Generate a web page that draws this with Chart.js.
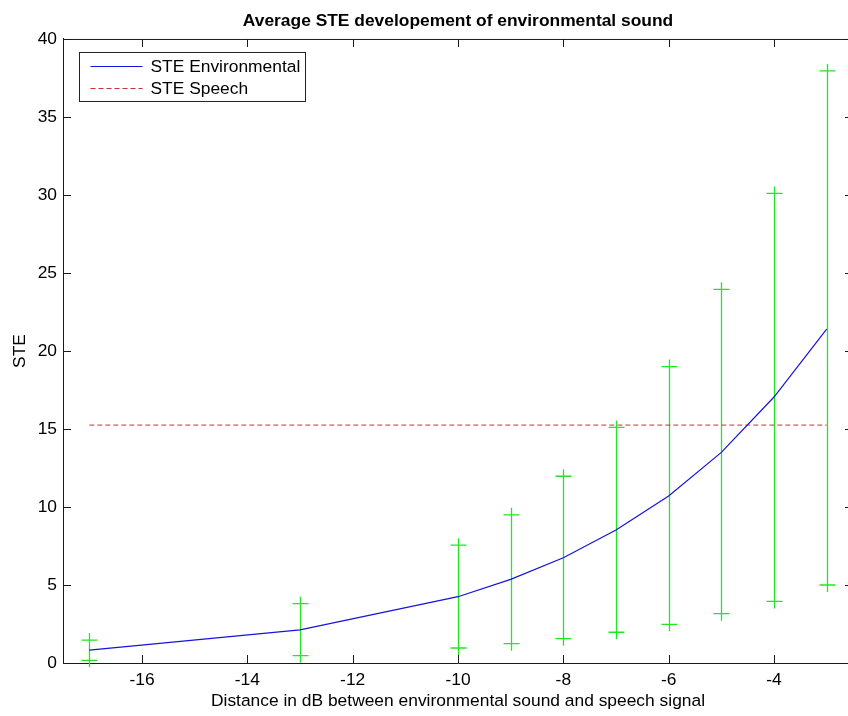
<!DOCTYPE html>
<html>
<head>
<meta charset="utf-8">
<script src="https://cdn.jsdelivr.net/npm/chart.js@4"></script>
<style>
  html, body { margin: 0; background: #fff; overflow: hidden; }
  #wrap { width: 848px; height: 716px; overflow: hidden; position: relative; }
  #steChart { position: absolute; left: 0; top: 0; }
</style>
</head>
<body>
<div id="wrap"><canvas id="steChart" width="870" height="716"></canvas></div>
<script>
// distance in dB and the averaged STE with its spread
const distances = [-17, -13, -10, -9, -8, -7, -6, -5, -4, -3];
const steEnvironmental = [0.83, 2.12, 4.25, 5.36, 6.75, 8.53, 10.7, 13.5, 17.05, 21.4];
const steUpper = [1.47, 3.8, 7.55, 9.5, 11.97, 15.1, 19.0, 23.95, 30.1, 37.95];
const steLower = [0.17, 0.47, 0.96, 1.24, 1.56, 1.97, 2.48, 3.16, 3.95, 5.0];
const steSpeech = 15.25;
const xTicks = [-16, -14, -12, -10, -8, -6, -4];
const yTicks = [0, 5, 10, 15, 20, 25, 30, 35, 40];

const FONT = '"Liberation Sans", Arial, sans-serif';
const FS = 17.4;
const AXIS = '#1a1a1a';

const envPoints = distances.map((d, i) => ({ x: d, y: steEnvironmental[i] }));
const speechPoints = [
    { x: distances[0], y: steSpeech },
    { x: distances[distances.length - 1], y: steSpeech }
];

// green error bars with '+' ends
const errorBars = {
    id: 'errorBars',
    beforeDatasetsDraw(chart) {
        const { ctx, scales: { x, y } } = chart;
        ctx.save();
        ctx.strokeStyle = '#22e622';
        ctx.lineWidth = 1.3;
        const h = 7;
        distances.forEach((d, i) => {
            const px = Math.round(x.getPixelForValue(d)) + 0.5;
            const top = y.getPixelForValue(steUpper[i]);
            const bot = y.getPixelForValue(steLower[i]);
            ctx.beginPath();
            ctx.moveTo(px, top - h);
            ctx.lineTo(px, bot + h);
            ctx.moveTo(px - h - 1, top);
            ctx.lineTo(px + h + 1, top);
            ctx.moveTo(px - h - 1, bot);
            ctx.lineTo(px + h + 1, bot);
            ctx.stroke();
        });
        ctx.restore();
    }
};

// box edges, inward ticks and the legend
const frame = {
    id: 'frame',
    afterDraw(chart) {
        const { ctx, chartArea: a, scales: { x, y } } = chart;
        ctx.save();
        ctx.strokeStyle = AXIS;
        ctx.lineWidth = 1;
        ctx.beginPath();
        ctx.moveTo(a.left + 0.5, a.top + 0.5);
        ctx.lineTo(a.right - 0.5, a.top + 0.5);
        ctx.lineTo(a.right - 0.5, a.bottom);
        const t = 8;
        xTicks.forEach(v => {
            const px = Math.round(x.getPixelForValue(v)) + 0.5;
            ctx.moveTo(px, a.bottom);
            ctx.lineTo(px, a.bottom - t);
            ctx.moveTo(px, a.top);
            ctx.lineTo(px, a.top + t);
        });
        yTicks.forEach(v => {
            const py = Math.round(y.getPixelForValue(v)) + 0.5;
            ctx.moveTo(a.left, py);
            ctx.lineTo(a.left + t, py);
            ctx.moveTo(a.right, py);
            ctx.lineTo(a.right - t, py);
        });
        ctx.stroke();

        // legend
        const lx = a.left + 16.5, ly = a.top + 13.5, lw = 226, lh = 49;
        ctx.fillStyle = '#fff';
        ctx.fillRect(lx, ly, lw, lh);
        ctx.strokeStyle = '#222';
        ctx.strokeRect(lx, ly, lw, lh);
        ctx.font = FS + 'px ' + FONT;
        ctx.textBaseline = 'middle';
        chart.data.datasets.forEach((ds, i) => {
            const ry = ly + 14 + i * 22;
            ctx.beginPath();
            ctx.strokeStyle = ds.borderColor;
            ctx.lineWidth = 1;
            ctx.setLineDash(ds.borderDash || []);
            ctx.moveTo(lx + 11, Math.round(ry) + 0.5);
            ctx.lineTo(lx + 63, Math.round(ry) + 0.5);
            ctx.stroke();
            ctx.setLineDash([]);
            ctx.fillStyle = '#000';
            ctx.fillText(ds.label, lx + 71, ry + 1);
        });
        ctx.restore();
    }
};

new Chart(document.getElementById('steChart'), {
    type: 'line',
    data: {
        datasets: [
            {
                label: 'STE Environmental',
                data: envPoints,
                borderColor: '#1414dc',
                borderWidth: 1.2,
                pointRadius: 0,
                tension: 0
            },
            {
                label: 'STE Speech',
                data: speechPoints,
                borderColor: '#cc3030',
                borderWidth: 1,
                borderDash: [5, 3],
                pointRadius: 0
            }
        ]
    },
    options: {
        responsive: false,
        animation: false,
        layout: { padding: { left: 0, right: 17, top: 0, bottom: 0 } },
        plugins: {
            legend: { display: false },
            tooltip: { enabled: false },
            title: {
                display: true,
                fullSize: false,
                text: 'Average STE developement of environmental sound',
                color: '#000',
                font: { family: FONT, size: FS, weight: 'bold', lineHeight: 1.2 },
                padding: { top: 10.4, bottom: 7.7 }
            }
        },
        scales: {
            x: {
                type: 'linear',
                min: -17.5,
                max: -2.5,
                grid: { display: false, drawTicks: false },
                border: { display: true, color: AXIS, width: 1 },
                ticks: { color: '#000', padding: 6.5, font: { family: FONT, size: FS } },
                title: {
                    display: true,
                    text: 'Distance in dB between environmental sound and speech signal',
                    color: '#000',
                    font: { family: FONT, size: FS },
                    padding: { top: 0, bottom: 4 }
                },
                afterBuildTicks(scale) { scale.ticks = xTicks.map(v => ({ value: v })); },
                afterFit(scale) { scale.height = 53; }
            },
            y: {
                type: 'linear',
                min: 0,
                max: 40,
                grid: { display: false, drawTicks: false },
                border: { display: true, color: AXIS, width: 1 },
                ticks: { color: '#000', padding: 6, font: { family: FONT, size: FS } },
                title: {
                    display: true,
                    text: 'STE',
                    color: '#000',
                    font: { family: FONT, size: FS },
                    padding: { top: 9.6, bottom: 0 }
                },
                afterBuildTicks(scale) { scale.ticks = yTicks.map(v => ({ value: v })); },
                afterFit(scale) { scale.width = 63; }
            }
        }
    },
    plugins: [errorBars, frame]
});
</script>
</body>
</html>
